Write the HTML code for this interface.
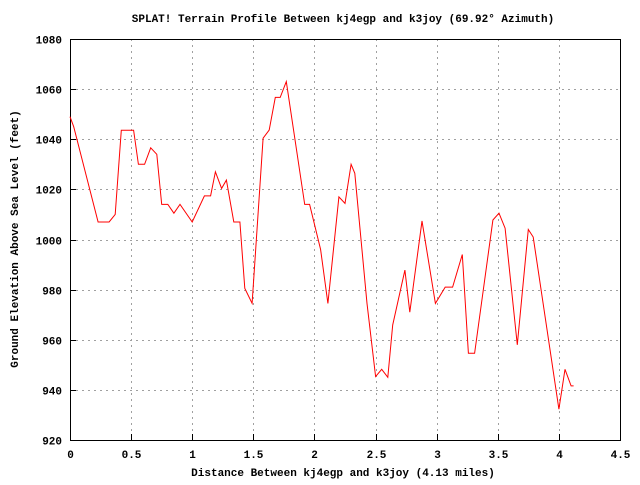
<!DOCTYPE html>
<html><head><meta charset="utf-8"><style>
body{margin:0;background:#fff}
svg text{font-family:"Liberation Mono",monospace;font-size:11px;font-weight:bold;fill:#000}
</style></head><body>
<svg width="640" height="480">
<g id="grid"></g>
<g id="axes"></g>
<polyline id="profile" fill="none" stroke="#ff0000" stroke-width="1"/>
<text x="343" y="22" text-anchor="middle">SPLAT! Terrain Profile Between kj4egp and k3joy (69.92° Azimuth)</text>
<text x="343" y="476" text-anchor="middle">Distance Between kj4egp and k3joy (4.13 miles)</text>
<text transform="translate(18,239) rotate(-90)" text-anchor="middle">Ground Elevation Above Sea Level (feet)</text>
</svg>
<script>
const distances=[0,0.03,0.23,0.32,0.37,0.42,0.52,0.56,0.61,0.66,0.71,0.75,0.80,0.85,0.90,1.00,1.10,1.15,1.19,1.24,1.28,1.34,1.39,1.43,1.49,1.58,1.63,1.68,1.72,1.77,1.92,1.96,2.05,2.11,2.20,2.25,2.30,2.33,2.43,2.50,2.55,2.60,2.64,2.74,2.78,2.88,2.99,3.07,3.13,3.21,3.26,3.31,3.46,3.51,3.56,3.66,3.75,3.79,4.00,4.05,4.10,4.12];
const elevations=[1049,1045,1007,1007,1010,1043.6,1043.6,1030,1030,1036.6,1034,1014,1014,1010.5,1014,1007,1017.4,1017.4,1027,1020.4,1023.7,1007,1007,980.5,974.5,1040.4,1043.7,1056.7,1056.7,1063,1014,1014,996,974.5,1017,1014.4,1030,1026.4,974.5,945.3,948.2,945,965.9,987.8,971,1007.4,974.5,981,981,994,954.6,954.6,1007.8,1010.5,1004.5,958,1004,1001,932.3,948.2,941.6,941.6];
const xTicks=[0,0.5,1,1.5,2,2.5,3,3.5,4,4.5];
const xTickLabels=["0","0.5","1","1.5","2","2.5","3","3.5","4","4.5"];
const yTicks=[920,940,960,980,1000,1020,1040,1060,1080];
const X0=70,X1=620,Y0=440,Y1=39;
const xs=d=>X0+(d-0)/(4.5-0)*(X1-X0);
const ys=v=>Y0-(v-920)/(1080-920)*(Y0-Y1);
const NS="http://www.w3.org/2000/svg";
const grid=document.getElementById('grid'),axes=document.getElementById('axes');
function mk(tag,attrs,parent){const e=document.createElementNS(NS,tag);for(const k in attrs)e.setAttribute(k,attrs[k]);parent.appendChild(e);return e;}
xTicks.forEach((t,i)=>{
  const x=Math.round(xs(t))+0.5;
  if(i>0&&i<xTicks.length-1){const g=mk('line',{x1:x,x2:x,y1:Y1,y2:Y0,stroke:'#a0a0a0','stroke-dasharray':'2,4'},grid);
  
  }
  const tk=mk('line',{x1:x,x2:x,y1:Y0,y2:Y0-6,stroke:'#000'},axes);
  
  
  const tx=mk('text',{x:x,y:Y0+18,'text-anchor':'middle'},axes);tx.textContent=xTickLabels[i];
  
  
});
yTicks.forEach((t,i)=>{
  const y=Math.round(ys(t))+0.5;
  if(i>0&&i<yTicks.length-1){const g=mk('line',{x1:X0,x2:X1,y1:y,y2:y,stroke:'#a0a0a0','stroke-dasharray':'2,4'},grid);
  
  }
  const tk=mk('line',{x1:X0,x2:X0+6,y1:y,y2:y,stroke:'#000'},axes);
  
  
  const tx=mk('text',{x:X0-8,y:y+4,'text-anchor':'end'},axes);tx.textContent=String(t);
  
  
});
const fr=mk('rect',{x:X0+0.5,y:Y1+0.5,width:X1-X0,height:Y0-Y1,fill:'none',stroke:'#000'},axes);


document.getElementById('profile').setAttribute('points',distances.map((d,i)=>xs(d).toFixed(1)+','+ys(elevations[i]).toFixed(1)).join(' '));
</script>
</body></html>
